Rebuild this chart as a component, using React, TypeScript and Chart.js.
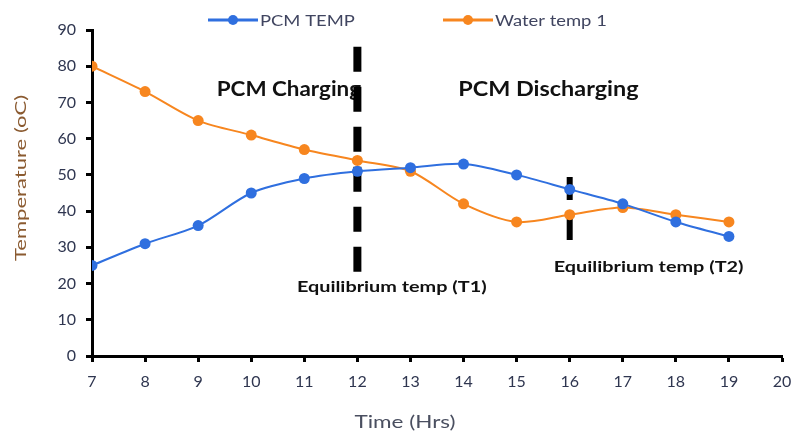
import React, { useEffect, useRef } from "react";
import { Chart, registerables } from "chart.js";

Chart.register(...registerables);

const hours = [7, 8, 9, 10, 11, 12, 13, 14, 15, 16, 17, 18, 19];
const pcmTemp = [25, 31, 36, 45, 49, 51, 52, 53, 50, 46, 42, 37, 33];
const waterTemp = [80, 73, 65, 61, 57, 54, 51, 42, 37, 39, 41, 39, 37];
const seriesNames = ["PCM TEMP", "Water temp 1"];
const seriesColors = ["#2f6fdf", "#f7861f"];
const xAxisTitle = "Time (Hrs)";
const yAxisTitle = "Temperature (oC)";
const phaseLabels = [
  { text: "PCM Charging", x: 9.35, y: 71.8, stretch: 1.12 },
  { text: "PCM Discharging", x: 13.9, y: 71.8, stretch: 1.17 },
];
const equilibriumLabels = [
  { text: "Equilibrium temp (T1)", x: 10.86, y: 17.8 },
  { text: "Equilibrium temp (T2)", x: 15.7, y: 23.3 },
];
const markerLines = [
  { x: 12, from: 85.4, to: 22.3, width: 8, dash: [25, 15] },
  { x: 16, from: 49.4, to: 31.5, width: 6, dash: [23, 17] },
];

const FONT = "Lato, 'Open Sans', sans-serif";
const TICK_COLOR = "#2f3650";

function stretchText(
  ctx: CanvasRenderingContext2D,
  text: string,
  x: number,
  y: number,
  sx: number,
  align: CanvasTextAlign,
  rotate = 0
) {
  ctx.save();
  ctx.translate(x, y);
  if (rotate) ctx.rotate(rotate);
  ctx.scale(sx, 1);
  ctx.textAlign = align;
  ctx.fillText(text, 0, 0);
  ctx.restore();
}

const overlayPlugin = {
  id: "overlay",
  beforeDatasetsDraw(chart: any) {
    const ctx = chart.ctx;
    const xs = chart.scales.x;
    const ys = chart.scales.y;
    ctx.save();
    ctx.fillStyle = "#111";
    ctx.textBaseline = "alphabetic";
    ctx.font = `bold 20px ${FONT}`;
    phaseLabels.forEach((l) => {
      stretchText(ctx, l.text, xs.getPixelForValue(l.x), ys.getPixelForValue(l.y), l.stretch, "left");
    });
    ctx.font = `bold 16px ${FONT}`;
    equilibriumLabels.forEach((l) => {
      stretchText(ctx, l.text, xs.getPixelForValue(l.x), ys.getPixelForValue(l.y), 1.24, "left");
    });
    ctx.strokeStyle = "#000";
    markerLines.forEach((m) => {
      ctx.lineWidth = m.width;
      ctx.setLineDash(m.dash);
      ctx.beginPath();
      const px = xs.getPixelForValue(m.x);
      ctx.moveTo(px, ys.getPixelForValue(m.from));
      ctx.lineTo(px, ys.getPixelForValue(m.to));
      ctx.stroke();
    });
    ctx.restore();
  },
  afterDraw(chart: any) {
    const ctx = chart.ctx;
    const ys = chart.scales.y;
    ctx.save();
    ctx.textBaseline = "alphabetic";
    // x axis title
    ctx.fillStyle = "#4a4f60";
    ctx.font = `18px ${FONT}`;
    stretchText(ctx, xAxisTitle, 405, 428, 1.25, "center");
    // y axis title
    ctx.fillStyle = "#8a5a30";
    ctx.font = `16px ${FONT}`;
    stretchText(ctx, yAxisTitle, 26, (ys.top + ys.bottom) / 2 - 15, 1.38, "center", -Math.PI / 2);
    // legend
    ctx.font = `16px ${FONT}`;
    const starts = [208, 443];
    const lineLen = 50;
    const y = 20;
    seriesNames.forEach((name, i) => {
      const x = starts[i];
      ctx.strokeStyle = seriesColors[i];
      ctx.fillStyle = seriesColors[i];
      ctx.lineWidth = 3;
      ctx.setLineDash([]);
      ctx.beginPath();
      ctx.moveTo(x, y);
      ctx.lineTo(x + lineLen, y);
      ctx.stroke();
      ctx.beginPath();
      ctx.arc(x + lineLen / 2, y, 5, 0, Math.PI * 2);
      ctx.fill();
      ctx.fillStyle = "#404560";
      stretchText(ctx, name, x + lineLen + 2, y + 6, 1.15, "left");
    });
    ctx.restore();
  },
};

export default function App() {
  const ref = useRef<HTMLCanvasElement | null>(null);
  useEffect(() => {
    document.body.style.margin = "0";
    if (!ref.current) return;
    const chart = new Chart(ref.current, {
      type: "line",
      data: {
        datasets: [
          {
            label: seriesNames[0],
            data: hours.map((h, i) => ({ x: h, y: pcmTemp[i] })),
            borderColor: seriesColors[0],
            backgroundColor: seriesColors[0],
            borderWidth: 2,
            pointRadius: 5.5,
            pointBorderWidth: 0,
            tension: 0.3,
          },
          {
            label: seriesNames[1],
            data: hours.map((h, i) => ({ x: h, y: waterTemp[i] })),
            borderColor: seriesColors[1],
            backgroundColor: seriesColors[1],
            borderWidth: 2,
            pointRadius: 5.5,
            pointBorderWidth: 0,
            tension: 0.3,
          },
        ],
      },
      options: {
        animation: false,
        responsive: false,
        devicePixelRatio: 1,
        layout: { padding: { top: 30, right: 13, left: 0, bottom: 0 } },
        plugins: { legend: { display: false }, tooltip: { enabled: false } },
        scales: {
          x: {
            type: "linear",
            min: 7,
            max: 20,
            afterFit: (s: any) => {
              s.height = 78;
              s.paddingRight = 0;
              s.paddingLeft = 0;
            },
            ticks: {
              stepSize: 1,
              color: TICK_COLOR,
              font: { family: FONT, size: 16 },
              padding: 10,
            },
            grid: {
              drawOnChartArea: false,
              drawTicks: true,
              tickLength: 6,
              tickWidth: 3,
              tickColor: "#000",
            },
            border: { color: "#000", width: 3 },
          },
          y: {
            min: 0,
            max: 90,
            afterFit: (s: any) => {
              s.width = 92;
            },
            ticks: {
              stepSize: 10,
              color: TICK_COLOR,
              font: { family: FONT, size: 16 },
              padding: 10,
            },
            grid: {
              drawOnChartArea: false,
              drawTicks: true,
              tickLength: 6,
              tickWidth: 3,
              tickColor: "#000",
            },
            border: { color: "#000", width: 3 },
          },
        },
      },
      plugins: [overlayPlugin],
    } as any);
    return () => chart.destroy();
  }, []);
  return <canvas ref={ref} width={795} height={434} style={{ display: "block" }} />;
}
